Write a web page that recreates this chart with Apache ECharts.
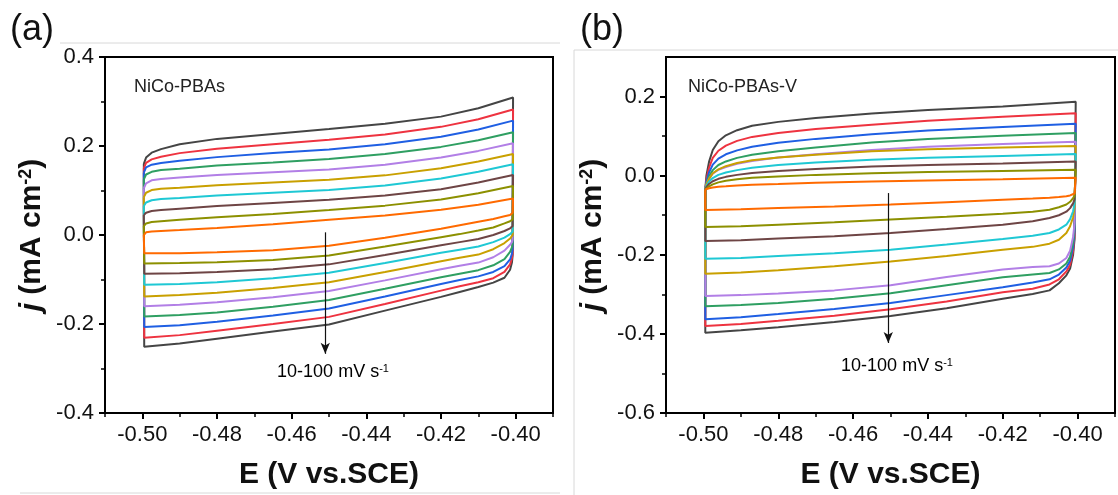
<!DOCTYPE html>
<html>
<head>
<meta charset="utf-8">
<script src="https://cdn.jsdelivr.net/npm/echarts@6/dist/echarts.min.js"></script>
<style>
  html, body { margin: 0; padding: 0; background: #fff; }
  #chart { width: 1118px; height: 495px; }
</style>
</head>
<body>
<div id="chart"></div>
<script>
// scan rates, mV/s (10 -> 100)
var rates = [10, 20, 30, 40, 50, 60, 70, 80, 90, 100];
var colors = ['#ff6a00', '#8c9000', '#6e4545', '#1fc8d4', '#c9a000', '#b27fe6', '#2f9f62', '#1f5fe3', '#ee3340', '#454545'];

// axis ticks
var xMajor = [-0.50, -0.48, -0.46, -0.44, -0.42, -0.40];
var xMinor = [-0.51, -0.49, -0.47, -0.45, -0.43, -0.41, -0.39];
var yMajorA = [-0.4, -0.2, 0, 0.2, 0.4];
var yMinorA = [-0.3, -0.1, 0.1, 0.3];
var yMajorB = [-0.6, -0.4, -0.2, 0, 0.2];
var yMinorB = [-0.5, -0.3, -0.1, 0.1];

// (a) NiCo-PBAs : anodic (up) and cathodic (down) sweeps
var eUpA = [-0.4996, -0.499, -0.4975, -0.495, -0.49, -0.48, -0.465, -0.45, -0.435, -0.42, -0.41, -0.4007];
var eDownA = [-0.4008, -0.401, -0.4015, -0.403, -0.406, -0.41, -0.415, -0.42, -0.435, -0.45, -0.465, -0.48, -0.49, -0.4995];
var upA = [
  [0.000, 0.006, 0.008, 0.009, 0.011, 0.016, 0.024, 0.034, 0.044, 0.057, 0.068, 0.082],
  [0.020, 0.026, 0.029, 0.031, 0.034, 0.040, 0.047, 0.056, 0.066, 0.080, 0.094, 0.110],
  [0.045, 0.050, 0.054, 0.056, 0.059, 0.065, 0.072, 0.079, 0.089, 0.103, 0.118, 0.135],
  [0.065, 0.073, 0.078, 0.081, 0.083, 0.089, 0.095, 0.101, 0.111, 0.127, 0.142, 0.159],
  [0.085, 0.095, 0.101, 0.104, 0.106, 0.112, 0.118, 0.124, 0.134, 0.150, 0.165, 0.182],
  [0.105, 0.116, 0.123, 0.126, 0.129, 0.135, 0.141, 0.147, 0.158, 0.174, 0.189, 0.206],
  [0.125, 0.136, 0.142, 0.146, 0.149, 0.156, 0.163, 0.171, 0.182, 0.198, 0.213, 0.231],
  [0.140, 0.152, 0.158, 0.162, 0.167, 0.175, 0.184, 0.192, 0.204, 0.221, 0.237, 0.257],
  [0.150, 0.162, 0.170, 0.176, 0.184, 0.194, 0.204, 0.214, 0.226, 0.243, 0.260, 0.282],
  [0.160, 0.174, 0.185, 0.193, 0.204, 0.216, 0.227, 0.238, 0.250, 0.266, 0.285, 0.309]
];
var downA = [
  [0.050, 0.047, 0.045, 0.042, 0.036, 0.030, 0.022, 0.014, -0.006, -0.024, -0.034, -0.039, -0.041, -0.041],
  [0.035, 0.033, 0.031, 0.026, 0.017, 0.010, 0.002, -0.005, -0.026, -0.046, -0.056, -0.061, -0.063, -0.064],
  [0.020, 0.018, 0.015, 0.009, 0.000, -0.009, -0.016, -0.023, -0.045, -0.066, -0.077, -0.083, -0.086, -0.087],
  [0.008, 0.005, 0.002, -0.006, -0.016, -0.026, -0.033, -0.040, -0.063, -0.085, -0.097, -0.106, -0.110, -0.112],
  [0.000, -0.004, -0.008, -0.018, -0.032, -0.044, -0.051, -0.059, -0.083, -0.106, -0.119, -0.130, -0.135, -0.138],
  [-0.010, -0.016, -0.022, -0.035, -0.050, -0.062, -0.069, -0.077, -0.102, -0.126, -0.140, -0.151, -0.157, -0.160],
  [-0.020, -0.028, -0.038, -0.054, -0.068, -0.079, -0.087, -0.095, -0.121, -0.146, -0.161, -0.174, -0.180, -0.183],
  [-0.030, -0.042, -0.055, -0.070, -0.083, -0.093, -0.101, -0.110, -0.138, -0.165, -0.181, -0.195, -0.203, -0.207],
  [-0.040, -0.052, -0.066, -0.083, -0.097, -0.106, -0.115, -0.125, -0.155, -0.184, -0.200, -0.215, -0.225, -0.231],
  [-0.045, -0.062, -0.078, -0.096, -0.107, -0.117, -0.128, -0.139, -0.170, -0.201, -0.217, -0.233, -0.244, -0.251]
];

// (b) NiCo-PBAs-V
var eUpB = [-0.4995, -0.4992, -0.4985, -0.4975, -0.496, -0.494, -0.491, -0.487, -0.48, -0.47, -0.455, -0.44, -0.42, -0.4005];
var eDownB = [-0.4008, -0.4012, -0.402, -0.403, -0.405, -0.4075, -0.412, -0.42, -0.435, -0.45, -0.465, -0.48, -0.49, -0.4995];
var upB = [
  [-0.035, -0.034, -0.032, -0.030, -0.028, -0.027, -0.025, -0.023, -0.021, -0.018, -0.015, -0.012, -0.009, -0.005],
  [-0.035, -0.032, -0.027, -0.022, -0.017, -0.013, -0.009, -0.005, -0.002, 0.002, 0.006, 0.009, 0.012, 0.015],
  [-0.035, -0.029, -0.021, -0.014, -0.008, -0.003, 0.002, 0.007, 0.012, 0.017, 0.023, 0.027, 0.031, 0.036],
  [-0.035, -0.026, -0.015, -0.006, 0.002, 0.008, 0.014, 0.020, 0.027, 0.033, 0.040, 0.045, 0.050, 0.055],
  [-0.035, -0.022, -0.008, 0.006, 0.016, 0.024, 0.032, 0.039, 0.046, 0.053, 0.062, 0.067, 0.071, 0.075],
  [-0.035, -0.022, -0.008, 0.005, 0.015, 0.022, 0.030, 0.037, 0.046, 0.054, 0.065, 0.073, 0.080, 0.086],
  [-0.035, -0.020, -0.002, 0.014, 0.027, 0.036, 0.045, 0.053, 0.062, 0.071, 0.084, 0.093, 0.101, 0.108],
  [-0.035, -0.015, 0.008, 0.028, 0.043, 0.054, 0.064, 0.073, 0.083, 0.093, 0.105, 0.114, 0.123, 0.131],
  [-0.035, -0.010, 0.020, 0.045, 0.063, 0.076, 0.088, 0.098, 0.108, 0.118, 0.129, 0.139, 0.149, 0.158],
  [-0.035, 0.000, 0.035, 0.065, 0.087, 0.102, 0.115, 0.126, 0.136, 0.146, 0.157, 0.166, 0.175, 0.187]
];
var downB = [
  [-0.045, -0.047, -0.050, -0.052, -0.054, -0.056, -0.058, -0.061, -0.067, -0.073, -0.078, -0.082, -0.085, -0.087],
  [-0.050, -0.057, -0.066, -0.073, -0.080, -0.086, -0.091, -0.096, -0.104, -0.111, -0.118, -0.124, -0.128, -0.130],
  [-0.060, -0.070, -0.082, -0.091, -0.100, -0.107, -0.115, -0.124, -0.135, -0.145, -0.153, -0.159, -0.163, -0.165],
  [-0.070, -0.090, -0.110, -0.124, -0.136, -0.145, -0.152, -0.160, -0.174, -0.187, -0.196, -0.203, -0.208, -0.210],
  [-0.080, -0.105, -0.128, -0.145, -0.162, -0.172, -0.180, -0.187, -0.203, -0.217, -0.229, -0.239, -0.245, -0.248],
  [-0.120, -0.155, -0.190, -0.208, -0.222, -0.229, -0.231, -0.237, -0.256, -0.277, -0.290, -0.298, -0.302, -0.304],
  [-0.130, -0.170, -0.205, -0.222, -0.237, -0.246, -0.250, -0.257, -0.277, -0.297, -0.311, -0.322, -0.327, -0.330],
  [-0.140, -0.180, -0.215, -0.232, -0.250, -0.262, -0.270, -0.282, -0.302, -0.322, -0.337, -0.350, -0.358, -0.363],
  [-0.150, -0.190, -0.225, -0.242, -0.262, -0.275, -0.286, -0.295, -0.318, -0.338, -0.354, -0.367, -0.375, -0.380],
  [-0.160, -0.200, -0.235, -0.252, -0.272, -0.290, -0.299, -0.311, -0.335, -0.355, -0.370, -0.383, -0.391, -0.397]
];

// scan-rate arrows [E, j start, j end]
var arrowA = [-0.451, 0.006, -0.267];
var arrowB = [-0.4506, -0.044, -0.423];

var FONT = 'Liberation Sans, Arial, sans-serif';

function loop(eUp, up, eDown, down) {
  var pts = [];
  for (var i = 0; i < eUp.length; i++) pts.push([eUp[i], up[i]]);
  for (var k = 0; k < eDown.length; k++) pts.push([eDown[k], down[k]]);
  pts.push([eUp[0], up[0]]);
  return pts;
}

function axesFor(gi, yMin, yMax, yMajor, yMinor) {
  var xs = [{
    gridIndex: gi, type: 'value', min: -0.51, max: -0.39, position: 'bottom',
    axisLine: { show: true, onZero: false, lineStyle: { color: '#000', width: 2 } },
    axisTick: { show: true, customValues: xMajor, length: 6, lineStyle: { color: '#000', width: 2 } },
    axisLabel: { customValues: xMajor, formatter: function (v) { return v.toFixed(2); },
      fontSize: 22, color: '#111', margin: 11, fontFamily: FONT },
    splitLine: { show: false },
    name: 'E (V vs.SCE)', nameLocation: 'middle', nameGap: 47,
    nameTextStyle: { fontSize: 30, fontWeight: 'bold', color: '#111', fontFamily: FONT }
  }, {
    gridIndex: gi, type: 'value', min: -0.51, max: -0.39, position: 'bottom',
    axisLine: { show: false, onZero: false },
    axisTick: { show: true, customValues: xMinor, length: 4, lineStyle: { color: '#000', width: 1.5 } },
    axisLabel: { show: false }, splitLine: { show: false }
  }];
  var ys = [{
    gridIndex: gi, type: 'value', min: yMin, max: yMax, position: 'left',
    axisLine: { show: true, onZero: false, lineStyle: { color: '#000', width: 2 } },
    axisTick: { show: true, customValues: yMajor, length: 6, lineStyle: { color: '#000', width: 2 } },
    axisLabel: { customValues: yMajor, formatter: function (v) { return v.toFixed(1); },
      fontSize: 22, color: '#111', margin: 11, fontFamily: FONT },
    splitLine: { show: false },
    name: '{j|j} (mA cm{sup|-2})', nameLocation: 'middle', nameGap: 58,
    nameTextStyle: { fontSize: 30, fontWeight: 'bold', color: '#111', fontFamily: FONT,
      rich: {
        j: { fontSize: 30, fontWeight: 'bold', fontStyle: 'italic', color: '#111', fontFamily: FONT },
        sup: { fontSize: 18, fontWeight: 'bold', color: '#111', fontFamily: FONT, verticalAlign: 'top' }
      } }
  }, {
    gridIndex: gi, type: 'value', min: yMin, max: yMax, position: 'left',
    axisLine: { show: false, onZero: false },
    axisTick: { show: true, customValues: yMinor, length: 4, lineStyle: { color: '#000', width: 1.5 } },
    axisLabel: { show: false }, splitLine: { show: false }
  }];
  return { x: xs, y: ys };
}

var axA = axesFor(0, -0.4, 0.4, yMajorA, yMinorA);
var axB = axesFor(1, -0.6, 0.3, yMajorB, yMinorB);

var series = [];
for (var r = rates.length - 1; r >= 0; r--) {
  series.push({
    name: 'a-' + rates[r], type: 'line', xAxisIndex: 0, yAxisIndex: 0,
    data: loop(eUpA, upA[r], eDownA, downA[r]),
    showSymbol: false, silent: true, lineStyle: { color: colors[r], width: 2 }
  });
  series.push({
    name: 'b-' + rates[r], type: 'line', xAxisIndex: 2, yAxisIndex: 2,
    data: loop(eUpB, upB[r], eDownB, downB[r]),
    showSymbol: false, silent: true, lineStyle: { color: colors[r], width: 2 }
  });
}

function arrowSeries(xi, yi, a) {
  return {
    type: 'line', xAxisIndex: xi, yAxisIndex: yi, data: [], silent: true,
    markLine: {
      silent: true, symbol: ['none', 'arrow'], symbolSize: [7, 11],
      lineStyle: { color: '#111', width: 1.2, type: 'solid' },
      label: { show: false },
      data: [[{ coord: [a[0], a[1]] }, { coord: [a[0], a[2]] }]]
    }
  };
}
series.push(arrowSeries(0, 0, arrowA));
series.push(arrowSeries(2, 2, arrowB));

var richSup = {
  n: { fontSize: 18, color: '#222', fontFamily: FONT },
  sup: { fontSize: 11, color: '#222', fontFamily: FONT, verticalAlign: 'top' }
};

var option = {
  animation: false,
  backgroundColor: '#fff',
  grid: [
    { left: 105, top: 57, width: 448, height: 362, show: true, borderColor: '#000', borderWidth: 2, backgroundColor: 'transparent' },
    { left: 666, top: 57, width: 449, height: 361, show: true, borderColor: '#000', borderWidth: 2, backgroundColor: 'transparent' }
  ],
  xAxis: axA.x.concat(axB.x),
  yAxis: axA.y.concat(axB.y),
  series: series,
  graphic: [
    // faint frames of the cropped sub-figures
    { type: 'line', silent: true, shape: { x1: 60, y1: 43, x2: 560, y2: 43 }, style: { stroke: '#d8d8d8', lineWidth: 1 } },
    { type: 'line', silent: true, shape: { x1: 20, y1: 493, x2: 560, y2: 493 }, style: { stroke: '#d8d8d8', lineWidth: 1 } },
    { type: 'line', silent: true, shape: { x1: 574, y1: 50, x2: 1118, y2: 50 }, style: { stroke: '#d8d8d8', lineWidth: 1 } },
    { type: 'line', silent: true, shape: { x1: 574, y1: 50, x2: 574, y2: 495 }, style: { stroke: '#d8d8d8', lineWidth: 1 } },
    { type: 'text', left: 10, top: 12, style: { text: '(a)', fontSize: 36, fill: '#111', fontFamily: FONT } },
    { type: 'text', left: 580, top: 12, style: { text: '(b)', fontSize: 36, fill: '#111', fontFamily: FONT } },
    { type: 'text', x: 134, y: 87, style: { text: 'NiCo-PBAs', fontSize: 18, fill: '#222', fontFamily: FONT, verticalAlign: 'middle' } },
    { type: 'text', x: 688, y: 87, style: { text: 'NiCo-PBAs-V', fontSize: 18, fill: '#222', fontFamily: FONT, verticalAlign: 'middle' } },
    { type: 'text', x: 333, y: 372, style: { text: '{n|10-100 mV s}{sup|-1}', rich: richSup, align: 'center', verticalAlign: 'middle' } },
    { type: 'text', x: 897, y: 366, style: { text: '{n|10-100 mV s}{sup|-1}', rich: richSup, align: 'center', verticalAlign: 'middle' } }
  ]
};

var myChart = echarts.init(document.getElementById('chart'));
myChart.setOption(option);
</script>
</body>
</html>
